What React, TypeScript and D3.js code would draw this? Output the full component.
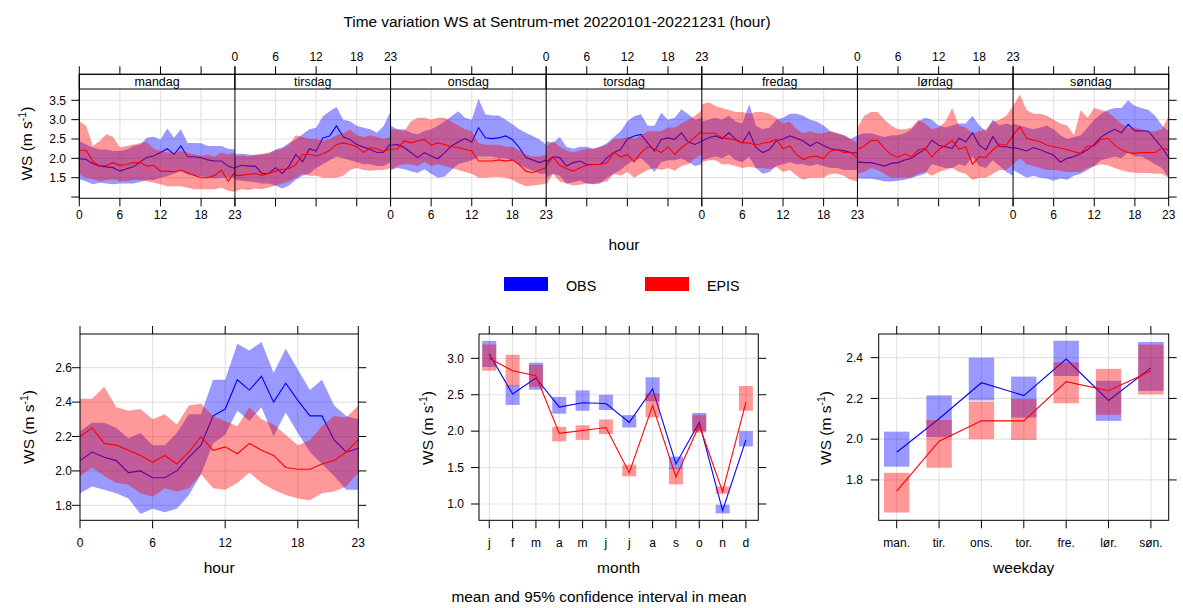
import React from "react";
import * as d3 from "d3";

const FONT = "'Liberation Sans', Arial, Helvetica, sans-serif";

// ---------- categories / ticks ----------
const DAYS = ["mandag", "tirsdag", "onsdag", "torsdag", "fredag", "lørdag", "søndag"];
const HOUR_TICKS = [0, 6, 12, 18, 23];
const HOURS = d3.range(24);
const MONTHS = ["j", "f", "m", "a", "m", "j", "j", "a", "s", "o", "n", "d"];
const WEEKDAYS = ["man.", "tir.", "ons.", "tor.", "fre.", "lør.", "søn."];
const SERIES = ["OBS", "EPIS"];
const TOP_Y_TICKS = [1.0, 1.5, 2.0, 2.5, 3.0, 3.5];
const TOP_Y_LABELS = ["", "1.5", "2.0", "2.5", "3.0", "3.5"];
const HOUR_Y_TICKS = [1.8, 2.0, 2.2, 2.4, 2.6];
const MONTH_Y_TICKS = [1.0, 1.5, 2.0, 2.5, 3.0];
const WEEKDAY_Y_TICKS = [1.8, 2.0, 2.2, 2.4];

// ---------- day x hour (rows = mandag..søndag, 24 hours each) ----------
const obsDayHourMean = [
  1.99, 1.97, 1.87, 1.80, 1.78, 1.76, 1.67, 1.73, 1.78, 1.91, 2.03, 2.06, 2.15, 2.25, 2.10, 2.32, 2.04, 2.04, 2.02, 1.96, 1.93, 1.93, 1.80, 1.74,
  1.76, 1.82, 1.80, 1.80, 1.61, 1.61, 1.76, 1.61, 1.80, 2.10, 1.91, 2.25, 2.19, 2.53, 2.58, 2.84, 2.56, 2.49, 2.36, 2.29, 2.23, 2.15, 2.16, 2.38,
  2.34, 2.36, 2.28, 2.15, 2.02, 2.15, 2.06, 1.99, 2.15, 2.32, 2.42, 2.51, 2.42, 2.79, 2.53, 2.51, 2.53, 2.58, 2.49, 2.28, 2.02, 1.96, 1.89, 1.96,
  1.90, 2.04, 2.02, 1.80, 1.89, 1.93, 1.84, 1.84, 1.84, 2.02, 2.15, 2.23, 2.50, 2.58, 2.62, 2.40, 2.19, 2.49, 2.53, 2.49, 2.66, 2.42, 2.36, 2.45,
  2.45, 2.53, 2.58, 2.51, 2.66, 2.49, 2.40, 2.68, 2.28, 2.15, 2.23, 2.45, 2.50, 2.58, 2.52, 2.45, 2.32, 2.42, 2.33, 2.25, 2.22, 2.20, 2.15, 2.14,
  1.91, 1.89, 1.89, 1.85, 1.80, 1.87, 1.89, 1.96, 2.00, 2.13, 2.23, 2.47, 2.34, 2.30, 2.26, 2.52, 2.43, 2.66, 2.34, 2.22, 2.56, 2.30, 2.30, 2.26,
  2.28, 2.24, 2.19, 2.28, 2.22, 2.15, 2.08, 1.90, 2.00, 2.05, 2.12, 2.22, 2.36, 2.55, 2.66, 2.75, 2.66, 2.88, 2.71, 2.71, 2.70, 2.49, 2.28, 2.02,
];
const obsDayHourLo = [
  1.46, 1.41, 1.33, 1.37, 1.35, 1.33, 1.35, 1.35, 1.35, 1.39, 1.44, 1.44, 1.50, 1.54, 1.61, 1.67, 1.58, 1.56, 1.54, 1.50, 1.48, 1.50, 1.50, 1.50,
  1.45, 1.42, 1.40, 1.38, 1.35, 1.35, 1.30, 1.22, 1.30, 1.45, 1.55, 1.60, 1.75, 1.85, 1.95, 2.05, 2.00, 1.95, 1.90, 1.85, 1.85, 1.80, 1.80, 1.90,
  1.70, 1.75, 1.72, 1.67, 1.62, 1.72, 1.60, 1.50, 1.53, 1.70, 1.85, 1.90, 1.95, 2.05, 2.05, 2.05, 2.00, 2.00, 1.95, 1.85, 1.75, 1.68, 1.60, 1.60,
  1.50, 1.60, 1.55, 1.35, 1.38, 1.42, 1.35, 1.33, 1.35, 1.50, 1.60, 1.70, 1.85, 1.95, 2.00, 1.85, 1.65, 1.90, 1.95, 1.95, 2.00, 1.90, 1.80, 1.85,
  1.95, 2.00, 2.05, 2.00, 2.10, 1.95, 1.90, 2.05, 1.75, 1.60, 1.65, 1.80, 1.85, 1.90, 1.85, 1.85, 1.80, 1.85, 1.80, 1.75, 1.75, 1.70, 1.70, 1.70,
  1.48, 1.47, 1.47, 1.45, 1.40, 1.40, 1.42, 1.45, 1.50, 1.55, 1.60, 1.85, 1.80, 1.75, 1.75, 1.85, 1.80, 2.05, 1.80, 1.75, 1.95, 1.80, 1.65, 1.55,
  1.70, 1.60, 1.50, 1.55, 1.50, 1.48, 1.42, 1.48, 1.45, 1.55, 1.60, 1.70, 1.80, 1.95, 2.00, 2.05, 2.00, 2.15, 2.05, 2.05, 1.95, 1.85, 1.75, 1.50,
];
const obsDayHourHi = [
  2.45, 2.36, 2.28, 2.23, 2.23, 2.19, 2.19, 2.23, 2.32, 2.36, 2.53, 2.56, 2.49, 2.77, 2.53, 2.75, 2.40, 2.40, 2.39, 2.32, 2.32, 2.32, 2.25, 2.23,
  2.12, 2.12, 2.10, 2.08, 2.10, 2.12, 2.23, 2.28, 2.40, 2.49, 2.62, 2.75, 2.79, 3.09, 3.22, 3.33, 3.00, 2.96, 2.84, 2.79, 2.75, 2.66, 2.84, 3.22,
  2.85, 2.75, 2.75, 2.66, 2.62, 2.71, 2.75, 2.84, 2.96, 3.09, 3.22, 3.05, 3.00, 3.54, 3.14, 3.11, 3.11, 3.00, 2.88, 2.75, 2.66, 2.58, 2.49, 2.36,
  2.45, 2.40, 2.55, 2.30, 2.25, 2.30, 2.30, 2.25, 2.30, 2.40, 2.55, 2.70, 2.96, 3.09, 3.14, 2.84, 2.84, 3.18, 3.00, 3.05, 3.27, 3.14, 3.00, 3.05,
  2.95, 3.00, 3.05, 3.00, 3.10, 2.95, 2.90, 3.40, 2.85, 2.75, 2.80, 3.00, 3.05, 3.15, 3.15, 3.10, 3.00, 2.95, 2.85, 2.70, 2.65, 2.60, 2.50, 2.60,
  2.60, 2.65, 2.65, 2.60, 2.55, 2.60, 2.60, 2.65, 2.75, 2.95, 3.05, 3.00, 2.85, 2.80, 2.85, 2.90, 2.90, 3.10, 2.85, 2.70, 3.00, 2.85, 2.90, 2.85,
  2.90, 2.85, 2.80, 2.75, 2.80, 2.85, 2.75, 2.60, 2.50, 2.55, 2.60, 2.80, 3.00, 3.15, 3.25, 3.30, 3.30, 3.50, 3.35, 3.30, 3.25, 3.10, 2.85, 2.70,
];
const episDayHourMean = [
  2.21, 2.21, 1.93, 1.80, 1.82, 1.89, 1.82, 1.84, 1.89, 1.89, 1.80, 1.82, 1.67, 1.67, 1.65, 1.70, 1.63, 1.56, 1.50, 1.50, 1.56, 1.70, 1.41, 1.65,
  1.56, 1.56, 1.59, 1.61, 1.56, 1.61, 1.67, 1.72, 1.73, 1.84, 2.10, 2.10, 2.06, 2.12, 2.20, 2.36, 2.40, 2.36, 2.30, 2.15, 2.28, 2.25, 2.18, 2.24,
  2.23, 2.25, 2.45, 2.40, 2.45, 2.49, 2.34, 2.40, 2.36, 2.30, 2.28, 2.23, 2.19, 1.93, 1.93, 1.93, 1.96, 1.93, 1.96, 1.84, 1.67, 1.63, 1.70, 1.76,
  1.80, 2.04, 1.82, 1.73, 1.67, 1.76, 1.82, 1.84, 1.84, 1.89, 2.15, 2.04, 2.10, 1.91, 2.15, 2.30, 2.25, 2.15, 2.30, 2.10, 2.28, 2.40, 2.55, 2.70,
  2.65, 2.65, 2.65, 2.53, 2.51, 2.47, 2.40, 2.40, 2.34, 2.39, 2.42, 2.49, 2.25, 2.32, 2.10, 1.97, 2.04, 2.06, 1.99, 2.19, 2.23, 2.15, 2.15, 2.02,
  2.22, 2.32, 2.46, 2.46, 2.26, 2.09, 2.03, 2.11, 2.04, 2.22, 2.26, 2.04, 2.23, 2.34, 2.46, 2.23, 2.30, 1.85, 2.04, 2.03, 2.22, 2.37, 2.34, 2.60,
  2.60, 2.82, 2.52, 2.47, 2.43, 2.34, 2.30, 2.26, 2.23, 2.17, 2.13, 2.32, 2.32, 2.49, 2.52, 2.34, 2.22, 2.15, 2.13, 2.15, 2.15, 2.15, 2.26, 2.22,
];
const episDayHourLo = [
  1.59, 1.50, 1.46, 1.41, 1.44, 1.46, 1.41, 1.41, 1.44, 1.44, 1.41, 1.37, 1.33, 1.28, 1.28, 1.28, 1.24, 1.20, 1.20, 1.20, 1.20, 1.24, 1.16, 1.13,
  1.15, 1.20, 1.18, 1.22, 1.20, 1.25, 1.30, 1.35, 1.40, 1.50, 1.60, 1.55, 1.55, 1.50, 1.50, 1.50, 1.55, 1.70, 1.75, 1.70, 1.68, 1.70, 1.70, 1.75,
  1.70, 1.80, 1.85, 1.85, 1.80, 1.90, 1.80, 1.85, 1.80, 1.75, 1.70, 1.65, 1.60, 1.50, 1.50, 1.52, 1.52, 1.50, 1.45, 1.35, 1.28, 1.30, 1.32, 1.35,
  1.30, 1.60, 1.40, 1.35, 1.30, 1.32, 1.35, 1.35, 1.38, 1.40, 1.60, 1.55, 1.65, 1.50, 1.60, 1.70, 1.75, 1.70, 1.75, 1.68, 1.80, 1.85, 2.00, 2.10,
  1.90, 1.95, 1.95, 1.85, 1.85, 1.80, 1.75, 1.78, 1.75, 1.75, 1.72, 1.78, 1.65, 1.70, 1.55, 1.45, 1.50, 1.50, 1.50, 1.60, 1.60, 1.55, 1.45, 1.40,
  1.60, 1.65, 1.75, 1.70, 1.60, 1.50, 1.50, 1.52, 1.50, 1.60, 1.65, 1.55, 1.65, 1.70, 1.75, 1.65, 1.60, 1.45, 1.50, 1.50, 1.60, 1.70, 1.70, 1.85,
  1.85, 2.00, 1.85, 1.80, 1.75, 1.70, 1.70, 1.68, 1.65, 1.65, 1.65, 1.75, 1.80, 1.85, 1.82, 1.75, 1.70, 1.65, 1.63, 1.62, 1.62, 1.60, 1.60, 1.50,
];
const episDayHourHi = [
  2.96, 2.84, 2.32, 2.45, 2.62, 2.55, 2.28, 2.32, 2.36, 2.39, 2.42, 2.25, 2.19, 2.15, 2.15, 2.19, 2.15, 2.10, 2.06, 2.10, 2.04, 2.15, 2.10, 2.15,
  2.05, 2.08, 2.05, 2.10, 2.12, 2.15, 2.20, 2.25, 2.35, 2.60, 2.55, 2.50, 2.50, 2.45, 2.50, 2.60, 2.65, 2.75, 2.60, 2.55, 2.60, 2.55, 2.50, 2.55,
  2.75, 2.75, 2.70, 2.95, 3.05, 3.05, 3.00, 3.05, 3.05, 2.95, 2.85, 2.75, 2.70, 2.40, 2.35, 2.35, 2.35, 2.30, 2.30, 2.20, 2.10, 2.05, 2.05, 2.10,
  2.30, 2.45, 2.30, 2.20, 2.15, 2.20, 2.25, 2.25, 2.30, 2.35, 2.50, 2.50, 2.55, 2.50, 2.60, 2.70, 2.70, 2.70, 2.80, 2.80, 2.90, 3.00, 3.10, 3.25,
  3.40, 3.45, 3.35, 3.30, 3.25, 3.20, 3.20, 3.15, 3.20, 3.20, 3.15, 3.05, 2.90, 2.95, 2.75, 2.65, 2.70, 2.65, 2.65, 2.70, 2.65, 2.60, 2.50, 2.40,
  2.80, 3.10, 3.20, 3.20, 3.00, 2.85, 2.75, 2.75, 2.80, 3.00, 2.90, 2.75, 2.80, 2.95, 3.30, 2.85, 2.80, 2.65, 2.70, 2.75, 2.95, 3.00, 3.10, 3.35,
  3.35, 3.65, 3.25, 3.15, 3.15, 3.10, 3.00, 2.90, 2.85, 2.60, 3.25, 3.05, 3.30, 3.25, 3.20, 3.05, 2.90, 2.80, 2.80, 2.75, 2.70, 2.70, 2.75, 3.10,
];

// ---------- hour of day ----------
const obsHourMean = [2.06, 2.11, 2.08, 2.06, 1.99, 2.0, 1.96, 1.96, 2.0, 2.08, 2.15, 2.32, 2.36, 2.53, 2.47, 2.55, 2.40, 2.51, 2.41, 2.32, 2.32, 2.18, 2.11, 2.13];
const obsHourLo = [1.87, 1.91, 1.89, 1.87, 1.84, 1.75, 1.78, 1.76, 1.78, 1.86, 1.98, 2.16, 2.21, 2.35, 2.29, 2.37, 2.20, 2.34, 2.22, 2.11, 2.04, 1.97, 1.89, 1.89];
const obsHourHi = [2.23, 2.28, 2.28, 2.25, 2.19, 2.22, 2.15, 2.15, 2.22, 2.33, 2.33, 2.53, 2.53, 2.74, 2.70, 2.75, 2.57, 2.71, 2.59, 2.47, 2.53, 2.38, 2.32, 2.30];
const episHourMean = [2.20, 2.25, 2.16, 2.15, 2.12, 2.09, 2.05, 2.09, 2.04, 2.11, 2.20, 2.12, 2.14, 2.10, 2.16, 2.12, 2.09, 2.02, 2.01, 2.01, 2.04, 2.06, 2.11, 2.18];
const episHourLo = [1.97, 2.02, 1.97, 1.93, 1.92, 1.87, 1.85, 1.90, 1.88, 1.90, 1.98, 1.90, 1.89, 1.93, 1.99, 1.93, 1.89, 1.86, 1.84, 1.83, 1.87, 1.88, 1.91, 1.99];
const episHourHi = [2.42, 2.42, 2.49, 2.37, 2.35, 2.36, 2.30, 2.33, 2.27, 2.38, 2.39, 2.32, 2.29, 2.26, 2.37, 2.30, 2.27, 2.21, 2.15, 2.18, 2.26, 2.32, 2.31, 2.38];

// ---------- month ----------
const obsMonthMean = [3.06, 2.51, 2.73, 2.33, 2.39, 2.38, 2.12, 2.58, 1.55, 2.12, 0.91, 1.88];
const obsMonthLo = [2.88, 2.36, 2.57, 2.24, 2.28, 2.29, 2.05, 2.41, 1.48, 2.00, 0.87, 1.79];
const obsMonthHi = [3.24, 2.63, 2.94, 2.47, 2.56, 2.50, 2.22, 2.74, 1.65, 2.25, 0.99, 2.00];
const episMonthMean = [3.00, 2.83, 2.76, 1.97, 2.01, 2.05, 1.43, 2.35, 1.37, 2.08, 1.17, 2.40];
const episMonthLo = [2.83, 2.62, 2.61, 1.86, 1.88, 1.96, 1.38, 2.19, 1.27, 1.98, 1.14, 2.28];
const episMonthHi = [3.19, 3.05, 2.91, 2.06, 2.08, 2.16, 1.54, 2.52, 1.49, 2.22, 1.24, 2.62];

// ---------- weekday ----------
const obsWeekdayMean = [1.936, 2.10, 2.277, 2.214, 2.393, 2.19, 2.35];
const obsWeekdayLo = [1.865, 2.01, 2.19, 2.106, 2.31, 2.09, 2.237];
const obsWeekdayHi = [2.037, 2.215, 2.40, 2.307, 2.483, 2.286, 2.477];
const episWeekdayMean = [1.745, 1.99, 2.09, 2.09, 2.282, 2.238, 2.335];
const episWeekdayLo = [1.64, 1.86, 2.0, 1.996, 2.176, 2.12, 2.219];
const episWeekdayHi = [1.835, 2.094, 2.185, 2.197, 2.377, 2.345, 2.464];

const COLORS: Record<string, string> = { OBS: "#0000ff", EPIS: "#ff0000" };
const BAND_ALPHA = 0.4;
const GRID = "#e3e3e3";

function YLabel({ x, y }: { x: number; y: number }) {
  return (
    <text transform={`translate(${x},${y}) rotate(-90)`} textAnchor="middle" fontSize={15.5} fontFamily={FONT}>
      WS (m s<tspan dy={-6} fontSize={10.5}>-1</tspan>
      <tspan dy={6}>)</tspan>
    </text>
  );
}

type Box = { l: number; r: number; t: number; b: number };

function Frame({ box, xTicks, xScale, yTicks, yScale, yLabels, yLabelX, xLabels, xLabelY }: any) {
  const tk = 8;
  return (
    <g>
      {xTicks.map((v: number, i: number) => (
        <g key={"xt" + i}>
          <line x1={xScale(v)} x2={xScale(v)} y1={box.t - tk} y2={box.t} stroke="#000" />
          <line x1={xScale(v)} x2={xScale(v)} y1={box.b} y2={box.b + tk} stroke="#000" />
          <text x={xScale(v)} y={xLabelY} textAnchor="middle" fontSize={12} fontFamily={FONT}>
            {xLabels[i]}
          </text>
        </g>
      ))}
      {yTicks.map((v: number, i: number) => (
        <g key={"yt" + i}>
          <line x1={box.l - tk} x2={box.l} y1={yScale(v)} y2={yScale(v)} stroke="#000" />
          <line x1={box.r} x2={box.r + tk} y1={yScale(v)} y2={yScale(v)} stroke="#000" />
          <text x={yLabelX} y={yScale(v)} dy="0.35em" textAnchor="end" fontSize={12} fontFamily={FONT}>
            {yLabels[i]}
          </text>
        </g>
      ))}
      <rect x={box.l} y={box.t} width={box.r - box.l} height={box.b - box.t} fill="none" stroke="#000" />
    </g>
  );
}

function Grid({ box, xs, ys }: { box: Box; xs: number[]; ys: number[] }) {
  return (
    <g>
      {xs.map((x, i) => (
        <line key={"gx" + i} x1={x} x2={x} y1={box.t} y2={box.b} stroke={GRID} strokeWidth={1.2} />
      ))}
      {ys.map((y, i) => (
        <line key={"gy" + i} x1={box.l} x2={box.r} y1={y} y2={y} stroke={GRID} strokeWidth={1.2} />
      ))}
    </g>
  );
}

export default function App() {
  const W = 1183;
  const H = 608;

  // ---------- top panel ----------
  const tL = 79.3, tR = 1168.7, tStrip = 74.3, tTop = 89, tBot = 198.3;
  const dayW = (tR - tL) / 7;
  const yTop = d3.scaleLinear().domain([0.968, 3.792]).range([tBot, tTop]);
  const dayX = (d: number) => d3.scaleLinear().domain([0, 23]).range([tL + d * dayW, tL + (d + 1) * dayW]);

  const topData: Record<string, number[][]> = {
    OBS: [obsDayHourMean, obsDayHourLo, obsDayHourHi],
    EPIS: [episDayHourMean, episDayHourLo, episDayHourHi],
  };

  const topMarks: React.ReactNode[] = [];
  SERIES.forEach((s) => {
    const [mean, lo, hi] = topData[s];
    DAYS.forEach((_, d) => {
      const x = dayX(d);
      const idx = HOURS.map((h) => d * 24 + h);
      const area = d3
        .area<number>()
        .x((i) => x(i - d * 24))
        .y0((i) => yTop(lo[i]))
        .y1((i) => yTop(hi[i]));
      const line = d3
        .line<number>()
        .x((i) => x(i - d * 24))
        .y((i) => yTop(mean[i]));
      topMarks.push(
        <path key={`a${s}${d}`} d={area(idx) || ""} fill={COLORS[s]} fillOpacity={BAND_ALPHA} stroke="none" />,
        <path key={`l${s}${d}`} d={line(idx) || ""} fill="none" stroke={COLORS[s]} strokeWidth={1.1} />
      );
    });
  });

  const topGridX: number[] = [];
  DAYS.forEach((_, d) => [6, 12, 18].forEach((h) => topGridX.push(dayX(d)(h))));

  // ---------- bottom panels ----------
  const bT = 334, bB = 520.3;
  const hourBox: Box = { l: 80, r: 358.3, t: bT, b: bB };
  const monthBox: Box = { l: 479, r: 758.3, t: bT, b: bB };
  const wdBox: Box = { l: 878.7, r: 1168.7, t: bT, b: bB };

  const xHour = d3.scaleLinear().domain([0, 23]).range([hourBox.l, hourBox.r]);
  const yHour = d3.scaleLinear().domain([1.713, 2.796]).range([bB, bT]);
  const xMonth = d3.scaleLinear().domain([0.56, 12.53]).range([monthBox.l, monthBox.r]);
  const yMonth = d3.scaleLinear().domain([0.776, 3.334]).range([bB, bT]);
  const xWd = d3.scaleLinear().domain([0.575, 7.42]).range([wdBox.l, wdBox.r]);
  const yWd = d3.scaleLinear().domain([1.602, 2.516]).range([bB, bT]);

  const hourData: Record<string, number[][]> = {
    OBS: [obsHourMean, obsHourLo, obsHourHi],
    EPIS: [episHourMean, episHourLo, episHourHi],
  };
  const monthData: Record<string, number[][]> = {
    OBS: [obsMonthMean, obsMonthLo, obsMonthHi],
    EPIS: [episMonthMean, episMonthLo, episMonthHi],
  };
  const wdData: Record<string, number[][]> = {
    OBS: [obsWeekdayMean, obsWeekdayLo, obsWeekdayHi],
    EPIS: [episWeekdayMean, episWeekdayLo, episWeekdayHi],
  };

  const hourMarks = SERIES.map((s) => {
    const [mean, lo, hi] = hourData[s];
    const area = d3
      .area<number>()
      .x((h) => xHour(h))
      .y0((h) => yHour(lo[h]))
      .y1((h) => yHour(hi[h]));
    const line = d3
      .line<number>()
      .x((h) => xHour(h))
      .y((h) => yHour(mean[h]));
    return (
      <g key={"h" + s}>
        <path d={area(HOURS) || ""} fill={COLORS[s]} fillOpacity={BAND_ALPHA} />
        <path d={line(HOURS) || ""} fill="none" stroke={COLORS[s]} strokeWidth={1.1} />
      </g>
    );
  });

  const boxMarks = (data: Record<string, number[][]>, xs: any, ys: any, n: number, key: string) =>
    SERIES.map((s) => {
      const [mean, lo, hi] = data[s];
      const idx = d3.range(n);
      const unit = xs(2) - xs(1);
      const line = d3
        .line<number>()
        .x((i) => xs(i + 1))
        .y((i) => ys(mean[i]));
      return (
        <g key={key + s}>
          {idx.map((i) => (
            <rect
              key={i}
              x={xs(i + 1) - 0.3 * unit}
              width={0.6 * unit}
              y={ys(hi[i])}
              height={ys(lo[i]) - ys(hi[i])}
              fill={COLORS[s]}
              fillOpacity={BAND_ALPHA}
            />
          ))}
          <path d={line(idx) || ""} fill="none" stroke={COLORS[s]} strokeWidth={1.1} />
        </g>
      );
    });

  const monthPos = MONTHS.map((_, i) => i + 1);
  const wdPos = WEEKDAYS.map((_, i) => i + 1);

  return (
    <div style={{ position: "absolute", left: 0, top: 0 }}>
      <svg width={W} height={H} viewBox={`0 0 ${W} ${H}`} style={{ display: "block", background: "#fff" }}>
        {/* title */}
        <text x={557} y={27} textAnchor="middle" fontSize={15.4} fontFamily={FONT}>
          Time variation WS at Sentrum-met 20220101-20221231 (hour)
        </text>

        {/* ===== top panel ===== */}
        <Grid
          box={{ l: tL, r: tR, t: tTop, b: tBot }}
          xs={topGridX}
          ys={TOP_Y_TICKS.filter((v) => v > 1.2).map((v) => yTop(v))}
        />
        {topMarks}
        {/* strips */}
        {DAYS.map((name, d) => (
          <g key={"strip" + d}>
            <rect x={tL + d * dayW} y={tStrip} width={dayW} height={tTop - tStrip} fill="#fff" stroke="#000" />
            <text x={tL + (d + 0.5) * dayW} y={tTop - 3.5} textAnchor="middle" fontSize={12.5} fontFamily={FONT}>
              {name}
            </text>
          </g>
        ))}
        {/* day separators + ticks */}
        {DAYS.map((_, d) => {
          const x = dayX(d);
          const top = d % 2 === 1;
          return (
            <g key={"ax" + d}>
              <line x1={x(0)} x2={x(0)} y1={tStrip} y2={tBot} stroke="#000" />
              {HOUR_TICKS.map((h) => (
                <g key={h}>
                  <line x1={x(h)} x2={x(h)} y1={tStrip - 8} y2={tStrip} stroke="#000" />
                  <line x1={x(h)} x2={x(h)} y1={tBot} y2={tBot + 8} stroke="#000" />
                  <text
                    x={x(h)}
                    y={top ? 61 : 219}
                    textAnchor="middle"
                    fontSize={12}
                    fontFamily={FONT}
                  >
                    {h}
                  </text>
                </g>
              ))}
            </g>
          );
        })}
        {TOP_Y_TICKS.map((v, i) => (
          <g key={"ty" + i}>
            <line x1={tL - 8} x2={tL} y1={yTop(v)} y2={yTop(v)} stroke="#000" />
            <line x1={tR} x2={tR + 8} y1={yTop(v)} y2={yTop(v)} stroke="#000" />
            <text x={66} y={yTop(v)} dy="0.35em" textAnchor="end" fontSize={12} fontFamily={FONT}>
              {TOP_Y_LABELS[i]}
            </text>
          </g>
        ))}
        <rect x={tL} y={tStrip} width={tR - tL} height={tBot - tStrip} fill="none" stroke="#000" />
        <YLabel x={32} y={(tTop + tBot) / 2} />
        <text x={(tL + tR) / 2} y={250} textAnchor="middle" fontSize={15.5} fontFamily={FONT}>
          hour
        </text>

        {/* ===== legend ===== */}
        {SERIES.map((s, i) => {
          const lx = [504, 645][i];
          return (
            <g key={"lg" + s}>
              <rect x={lx} y={277} width={44} height={14} fill={COLORS[s]} />
              <text x={lx + 62} y={291} fontSize={14.3} fontFamily={FONT}>
                {s}
              </text>
            </g>
          );
        })}

        {/* ===== hour panel ===== */}
        <Grid box={hourBox} xs={[6, 12, 18].map((h) => xHour(h))} ys={HOUR_Y_TICKS.map((v) => yHour(v))} />
        {hourMarks}
        <Frame
          box={hourBox}
          xTicks={HOUR_TICKS}
          xScale={xHour}
          xLabels={HOUR_TICKS.map(String)}
          xLabelY={547}
          yTicks={HOUR_Y_TICKS}
          yScale={yHour}
          yLabels={HOUR_Y_TICKS.map((v) => v.toFixed(1))}
          yLabelX={72}
        />
        <YLabel x={34} y={427} />
        <text x={(hourBox.l + hourBox.r) / 2} y={573} textAnchor="middle" fontSize={15.5} fontFamily={FONT}>
          hour
        </text>

        {/* ===== month panel ===== */}
        <Grid box={monthBox} xs={monthPos.map((m) => xMonth(m))} ys={MONTH_Y_TICKS.map((v) => yMonth(v))} />
        {boxMarks(monthData, xMonth, yMonth, 12, "m")}
        <Frame
          box={monthBox}
          xTicks={monthPos}
          xScale={xMonth}
          xLabels={MONTHS}
          xLabelY={547}
          yTicks={MONTH_Y_TICKS}
          yScale={yMonth}
          yLabels={MONTH_Y_TICKS.map((v) => v.toFixed(1))}
          yLabelX={464}
        />
        <YLabel x={433} y={428} />
        <text x={(monthBox.l + monthBox.r) / 2} y={573} textAnchor="middle" fontSize={15.5} fontFamily={FONT}>
          month
        </text>

        {/* ===== weekday panel ===== */}
        <Grid box={wdBox} xs={wdPos.map((m) => xWd(m))} ys={WEEKDAY_Y_TICKS.map((v) => yWd(v))} />
        {boxMarks(wdData, xWd, yWd, 7, "w")}
        <Frame
          box={wdBox}
          xTicks={wdPos}
          xScale={xWd}
          xLabels={WEEKDAYS}
          xLabelY={547}
          yTicks={WEEKDAY_Y_TICKS}
          yScale={yWd}
          yLabels={WEEKDAY_Y_TICKS.map((v) => v.toFixed(1))}
          yLabelX={863}
        />
        <YLabel x={831} y={428} />
        <text x={(wdBox.l + wdBox.r) / 2} y={573} textAnchor="middle" fontSize={15.5} fontFamily={FONT}>
          weekday
        </text>

        {/* footnote */}
        <text x={599} y={602} textAnchor="middle" fontSize={15.4} fontFamily={FONT}>
          mean and 95% confidence interval in mean
        </text>
      </svg>
    </div>
  );
}
